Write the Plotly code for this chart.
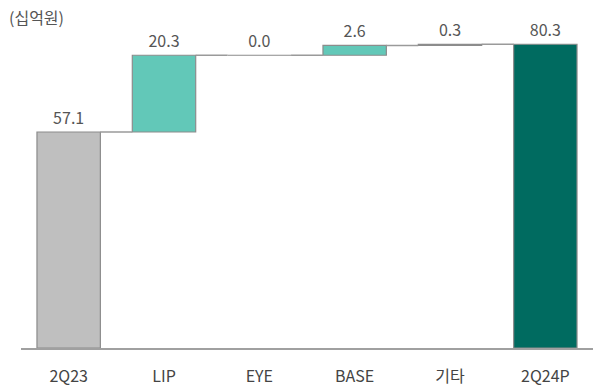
import plotly.graph_objects as go

# Operating profit bridge, 2Q23 -> 2Q24P (unit: KRW bn)
categories = ["2Q23", "LIP", "EYE", "BASE", "기타", "2Q24P"]
values = [57.1, 20.3, 0.0, 2.6, 0.3, 80.3]
kinds = ["total", "delta", "delta", "delta", "delta", "total"]
label_text = ["57.1", "20.3", "0.0", "2.6", "0.3", "80.3"]
bar_colors = ["#BFBFBF", "#62C8B8", "#62C8B8", "#62C8B8", "#62C8B8", "#006B60"]

# bar bases from the running total
bases, heights, tops = [], [], []
running = 0.0
for v, k in zip(values, kinds):
    if k == "total":
        bases.append(0.0)
        heights.append(v)
        running = v
    else:
        bases.append(running)
        heights.append(v)
        running += v
    tops.append(bases[-1] + heights[-1])

fig = go.Figure()
fig.add_trace(go.Bar(
    x=list(range(len(categories))),
    y=heights,
    base=bases,
    marker=dict(color=bar_colors, line=dict(color="#8C8C8C", width=1.2)),
    width=0.665,
    text=label_text,
    textposition="outside",
    textfont=dict(family="Noto Sans CJK KR", size=16, color="#555555"),
    cliponaxis=False,
    hoverinfo="skip",
))

# connector lines between consecutive bars at the running level
half = 0.665 / 2
for i in range(len(categories) - 1):
    fig.add_shape(
        type="line", xref="x", yref="y",
        x0=i + half, x1=i + 1 - half, y0=tops[i], y1=tops[i],
        line=dict(color="#9A9A9A", width=1.5),
    )

fig.add_annotation(
    text="(십억원)", xref="paper", yref="paper", x=-0.024, y=0.951,
    xanchor="left", yanchor="middle", showarrow=False,
    font=dict(family="Noto Sans CJK KR", size=16, color="#555555"),
)

fig.update_layout(
    width=593, height=387,
    margin=dict(l=21, r=0, t=0, b=39),
    paper_bgcolor="white", plot_bgcolor="white",
    showlegend=False,
    xaxis=dict(
        tickmode="array", tickvals=list(range(len(categories))), ticktext=categories,
        range=[-0.5, 5.5], showgrid=False, zeroline=False,
        showline=True, linecolor="#A0A0A0", linewidth=1.5,
        ticks="", ticklabelstandoff=13,
        tickfont=dict(family="Noto Sans CJK KR", size=16, color="#444444"),
    ),
    yaxis=dict(range=[0, 92], visible=False),
)

fig.write_html("out.html")
